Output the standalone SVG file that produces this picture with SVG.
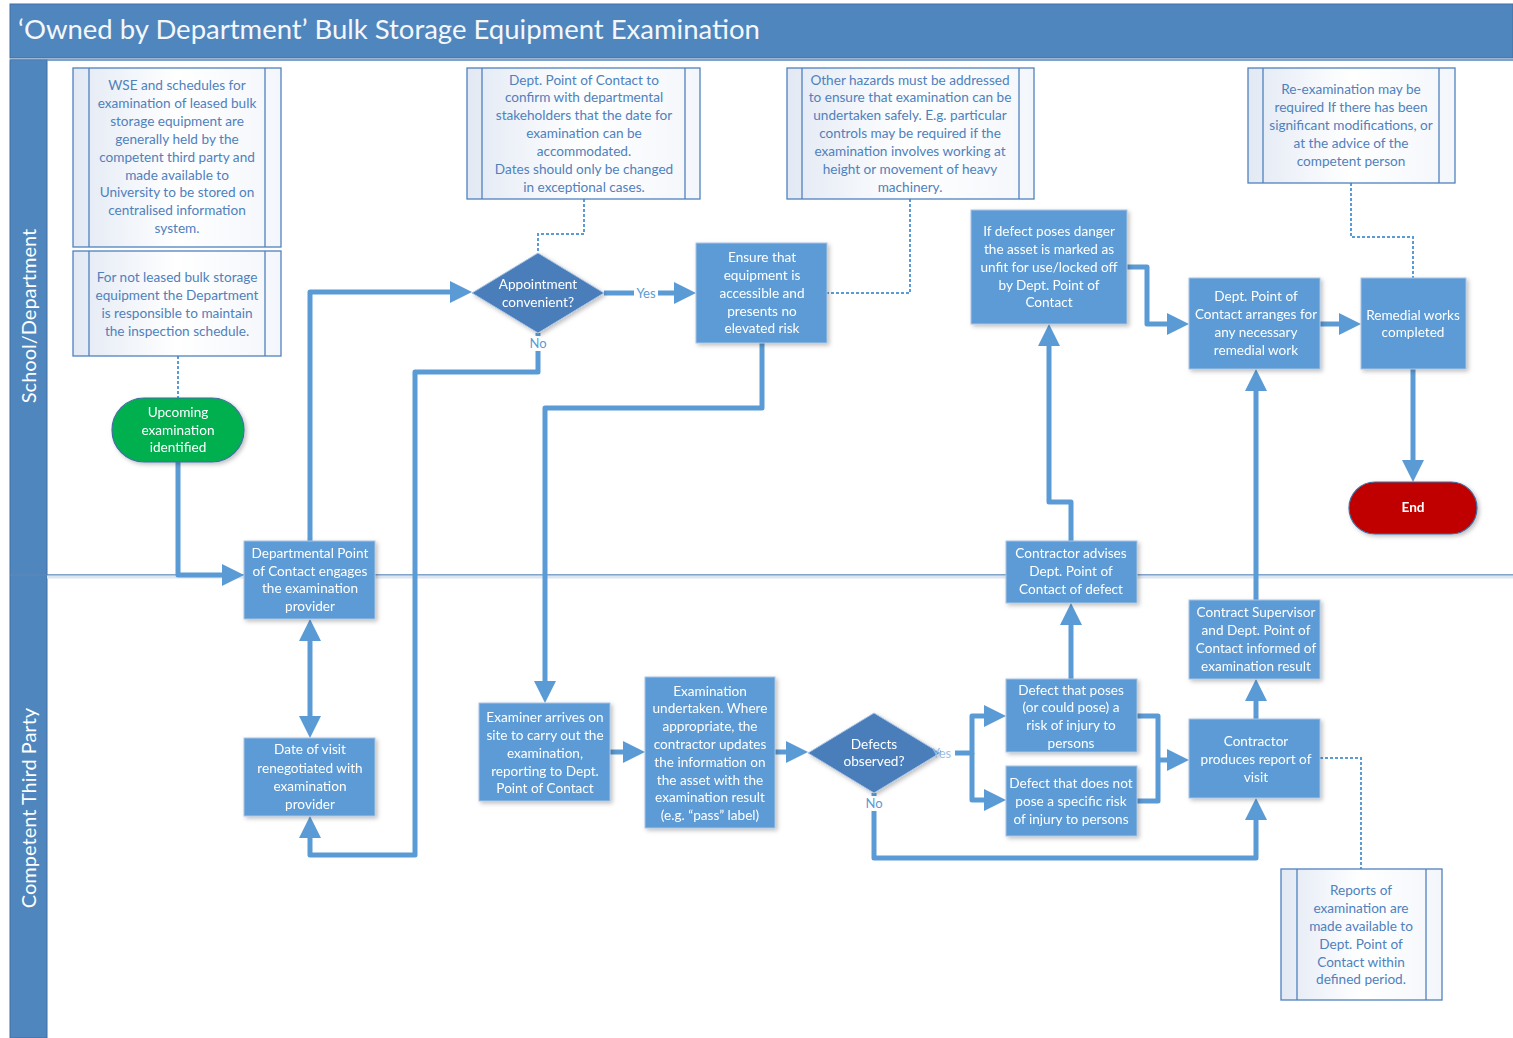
<svg xmlns="http://www.w3.org/2000/svg" width="1513" height="1038" viewBox="0 0 1513 1038">
<defs>
<style>
.t{font-family:Lato,"Liberation Sans",sans-serif;font-size:13.6px;text-anchor:middle}
.w{fill:#FFFFFF}
.nt{fill:#4F81BD}
.box{fill:#5B9BD5;stroke:#A9C4E4;stroke-width:1}
.dia{fill:#4A7EBB;stroke:#A9C4E4;stroke-width:1}
.note{fill:url(#ng);stroke:#4F81BD;stroke-width:1.3}
.bar{stroke:#4F81BD;stroke-width:1.3}
.c{fill:none;stroke:#5B9BD5;stroke-width:5;stroke-linejoin:round}
.a{marker-end:url(#ah)}
.d{fill:none;stroke:#5B9BD5;stroke-width:2;stroke-dasharray:3 2}
.lbl{font-family:Lato,"Liberation Sans",sans-serif;font-size:13px;text-anchor:middle;fill:#5B9BD5}
</style>
<linearGradient id="ng" x1="0" y1="0" x2="1" y2="0">
<stop offset="0" stop-color="#E2E9F4"/>
<stop offset="0.5" stop-color="#FFFFFF"/>
<stop offset="1" stop-color="#F3F6FB"/>
</linearGradient>
<filter id="sh" x="-10%" y="-10%" width="130%" height="130%">
<feDropShadow dx="2" dy="2" stdDeviation="2" flood-color="#000" flood-opacity="0.25"/>
</filter>
<marker id="ah" markerUnits="userSpaceOnUse" markerWidth="24" markerHeight="24" refX="12" refY="11" orient="auto">
<path d="M0,0 L22,11 L0,22 z" fill="#5B9BD5"/>
</marker>
<marker id="as" markerUnits="userSpaceOnUse" markerWidth="24" markerHeight="24" refX="12" refY="11" orient="auto-start-reverse">
<path d="M0,0 L22,11 L0,22 z" fill="#5B9BD5"/>
</marker>
</defs>
<rect width="1513" height="1038" fill="#FFFFFF"/>
<g id="frame">
<rect x="10" y="4" width="1503" height="54" fill="#4F86BD" stroke="#3F6FA3" stroke-width="1"/>
<text x="18" y="39" font-family="Lato,'Liberation Sans',sans-serif" font-size="27.5" fill="#F4F7FB">‘Owned by Department’ Bulk Storage Equipment Examination</text>
<rect x="10" y="60" width="37" height="978" fill="#4F86BD" stroke="#3F6FA3" stroke-width="1"/>
<line x1="10" y1="60" x2="1513" y2="60" stroke="#4F86BD" stroke-width="1.5"/>
<line x1="10" y1="575" x2="1513" y2="575" stroke="#5A86B8" stroke-width="1.5"/>
<line x1="47" y1="577" x2="1513" y2="577" stroke="#DCE6F2" stroke-width="3"/>
<text transform="translate(36,316) rotate(-90)" font-family="Lato,'Liberation Sans',sans-serif" font-size="20" fill="#FFFFFF" text-anchor="middle">School/Department</text>
<text transform="translate(36,808) rotate(-90)" font-family="Lato,'Liberation Sans',sans-serif" font-size="20" fill="#FFFFFF" text-anchor="middle">Competent Third Party</text>
</g>
<g id="connectors">
<path class="c a" d="M178,462 V575 H234"/>
<path class="c a" d="M310,541 V292 H462"/>
<path class="c" d="M310,629 V728" marker-start="url(#as)" marker-end="url(#as)"/>
<path class="c a" d="M538,333 V372 H415 V855 H310 V826"/>
<path class="c a" d="M604,293 H686"/>
<path class="c a" d="M762,343 V408 H545 V693"/>
<path class="c a" d="M610,752 H635"/>
<path class="c a" d="M775,752 H798"/>
<path class="c a" d="M940,753 H972 V716 H996"/>
<path class="c a" d="M972,753 V800 H996"/>
<path class="c a" d="M874,793 V858 H1256 V808"/>
<path class="c" d="M1137,716 H1158 V801 H1137"/>
<path class="c a" d="M1158,760 H1179"/>
<path class="c a" d="M1071,679 V613"/>
<path class="c a" d="M1071,541 V502 H1049 V334"/>
<path class="c a" d="M1127,267 H1147 V324 H1179"/>
<path class="c a" d="M1320,324 H1351"/>
<path class="c a" d="M1413,369 V472"/>
<path class="c a" d="M1256,600 V379"/>
<path class="c a" d="M1256,719 V689"/>
<path class="d" d="M178,356 V398"/>
<path class="d" d="M584,199 V234 H538 V253"/>
<path class="d" d="M910,199 V293 H827"/>
<path class="d" d="M1351,183 V237 H1413 V278"/>
<path class="d" d="M1320,758 H1361 V869"/>
<rect x="634" y="285" width="24" height="16" fill="#FFFFFF"/>
<text class="lbl" x="646" y="298">Yes</text>
<rect x="527" y="336" width="22" height="15" fill="#FFFFFF"/>
<text class="lbl" x="538" y="348">No</text>
<rect x="863" y="796" width="22" height="15" fill="#FFFFFF"/>
<text class="lbl" x="874" y="808">No</text>
</g>
<g id="n1">
<rect class="note" x="73" y="68" width="208" height="179"/>
<line class="bar" x1="89" y1="68" x2="89" y2="247"/><line class="bar" x1="265" y1="68" x2="265" y2="247"/>
<text class="t nt"><tspan x="177" y="90">WSE and schedules for</tspan><tspan x="177" y="108">examination of leased bulk</tspan><tspan x="177" y="126">storage equipment are</tspan><tspan x="177" y="144">generally held by the</tspan><tspan x="177" y="162">competent third party and</tspan><tspan x="177" y="180">made available to</tspan><tspan x="177" y="197">University to be stored on</tspan><tspan x="177" y="215">centralised information</tspan><tspan x="177" y="233">system.</tspan></text>
</g>
<g id="n2">
<rect class="note" x="73" y="251" width="208" height="105"/>
<line class="bar" x1="89" y1="251" x2="89" y2="356"/><line class="bar" x1="265" y1="251" x2="265" y2="356"/>
<text class="t nt"><tspan x="177" y="282">For not leased bulk storage</tspan><tspan x="177" y="300">equipment the Department</tspan><tspan x="177" y="318">is responsible to maintain</tspan><tspan x="177" y="336">the inspection schedule.</tspan></text>
</g>
<g id="n3">
<rect class="note" x="467" y="68" width="233" height="131"/>
<line class="bar" x1="482" y1="68" x2="482" y2="199"/><line class="bar" x1="685" y1="68" x2="685" y2="199"/>
<text class="t nt"><tspan x="584" y="85">Dept. Point of Contact to</tspan><tspan x="584" y="102">confirm with departmental</tspan><tspan x="584" y="120">stakeholders that the date for</tspan><tspan x="584" y="138">examination can be</tspan><tspan x="584" y="156">accommodated.</tspan><tspan x="584" y="174">Dates should only be changed</tspan><tspan x="584" y="192">in exceptional cases.</tspan></text>
</g>
<g id="n4">
<rect class="note" x="787" y="68" width="247" height="131"/>
<line class="bar" x1="802" y1="68" x2="802" y2="199"/><line class="bar" x1="1019" y1="68" x2="1019" y2="199"/>
<text class="t nt"><tspan x="910" y="85">Other hazards must be addressed</tspan><tspan x="910" y="102">to ensure that examination can be</tspan><tspan x="910" y="120">undertaken safely. E.g. particular</tspan><tspan x="910" y="138">controls may be required if the</tspan><tspan x="910" y="156">examination involves working at</tspan><tspan x="910" y="174">height or movement of heavy</tspan><tspan x="910" y="192">machinery.</tspan></text>
</g>
<g id="n5">
<rect class="note" x="1248" y="68" width="207" height="115"/>
<line class="bar" x1="1263" y1="68" x2="1263" y2="183"/><line class="bar" x1="1439" y1="68" x2="1439" y2="183"/>
<text class="t nt"><tspan x="1351" y="94">Re-examination may be</tspan><tspan x="1351" y="112">required If there has been</tspan><tspan x="1351" y="130">significant modifications, or</tspan><tspan x="1351" y="148">at the advice of the</tspan><tspan x="1351" y="166">competent person</tspan></text>
</g>
<g id="n6">
<rect class="note" x="1281" y="869" width="161" height="131"/>
<line class="bar" x1="1297" y1="869" x2="1297" y2="1000"/><line class="bar" x1="1426" y1="869" x2="1426" y2="1000"/>
<text class="t nt"><tspan x="1361" y="895">Reports of</tspan><tspan x="1361" y="913">examination are</tspan><tspan x="1361" y="931">made available to</tspan><tspan x="1361" y="949">Dept. Point of</tspan><tspan x="1361" y="967">Contact within</tspan><tspan x="1361" y="984">defined period.</tspan></text>
</g>
<g id="start" filter="url(#sh)">
<rect x="112" y="398" width="132" height="64" rx="32" fill="#00B050" stroke="#3F6FA3" stroke-width="1.2"/>
<text class="t w"><tspan x="178" y="417">Upcoming</tspan><tspan x="178" y="435">examination</tspan><tspan x="178" y="452">identified</tspan></text>
</g>
<g id="engage" filter="url(#sh)">
<rect class="box" x="244" y="541" width="131" height="78"/>
<text class="t w"><tspan x="310" y="558">Departmental Point</tspan><tspan x="310" y="576">of Contact engages</tspan><tspan x="310" y="593">the examination</tspan><tspan x="310" y="611">provider</tspan></text>
</g>
<g id="renegotiate" filter="url(#sh)">
<rect class="box" x="244" y="738" width="131" height="78"/>
<text class="t w"><tspan x="310" y="754">Date of visit</tspan><tspan x="310" y="773">renegotiated with</tspan><tspan x="310" y="791">examination</tspan><tspan x="310" y="809">provider</tspan></text>
</g>
<g id="appointment" filter="url(#sh)">
<polygon class="dia" points="472,293 538,253 604,293 538,333"/>
<text class="t w"><tspan x="538" y="289">Appointment</tspan><tspan x="538" y="307">convenient?</tspan></text>
</g>
<g id="ensure" filter="url(#sh)">
<rect class="box" x="696" y="243" width="131" height="100"/>
<text class="t w"><tspan x="762" y="262">Ensure that</tspan><tspan x="762" y="280">equipment is</tspan><tspan x="762" y="298">accessible and</tspan><tspan x="762" y="316">presents no</tspan><tspan x="762" y="333">elevated risk</tspan></text>
</g>
<g id="examiner" filter="url(#sh)">
<rect class="box" x="479" y="703" width="131" height="98"/>
<text class="t w"><tspan x="545" y="722">Examiner arrives on</tspan><tspan x="545" y="740">site to carry out the</tspan><tspan x="545" y="758">examination,</tspan><tspan x="545" y="776">reporting to Dept.</tspan><tspan x="545" y="793">Point of Contact</tspan></text>
</g>
<g id="examination" filter="url(#sh)">
<rect class="box" x="645" y="677" width="130" height="151"/>
<text class="t w"><tspan x="710" y="696">Examination</tspan><tspan x="710" y="713">undertaken. Where</tspan><tspan x="710" y="731">appropriate, the</tspan><tspan x="710" y="749">contractor updates</tspan><tspan x="710" y="767">the information on</tspan><tspan x="710" y="785">the asset with the</tspan><tspan x="710" y="802">examination result</tspan><tspan x="710" y="820">(e.g. “pass” label)</tspan></text>
</g>
<g id="defects" filter="url(#sh)">
<polygon class="dia" points="808,753 874,713 940,753 874,793"/>
<text class="t w"><tspan x="874" y="749">Defects</tspan><tspan x="874" y="766">observed?</tspan></text>
</g>
<g id="risk" filter="url(#sh)">
<rect class="box" x="1006" y="679" width="131" height="73"/>
<text class="t w"><tspan x="1071" y="695">Defect that poses</tspan><tspan x="1071" y="712">(or could pose) a</tspan><tspan x="1071" y="730">risk of injury to</tspan><tspan x="1071" y="748">persons</tspan></text>
</g>
<g id="norisk" filter="url(#sh)">
<rect class="box" x="1006" y="766" width="131" height="70"/>
<text class="t w"><tspan x="1071" y="788">Defect that does not</tspan><tspan x="1071" y="806">pose a specific risk</tspan><tspan x="1071" y="824">of injury to persons</tspan></text>
</g>
<g id="advise" filter="url(#sh)">
<rect class="box" x="1006" y="541" width="131" height="62"/>
<text class="t w"><tspan x="1071" y="558">Contractor advises</tspan><tspan x="1071" y="576">Dept. Point of</tspan><tspan x="1071" y="594">Contact of defect</tspan></text>
</g>
<g id="danger" filter="url(#sh)">
<rect class="box" x="971" y="210" width="156" height="114"/>
<text class="t w"><tspan x="1049" y="236">If defect poses danger</tspan><tspan x="1049" y="254">the asset is marked as</tspan><tspan x="1049" y="272">unfit for use/locked off</tspan><tspan x="1049" y="290">by Dept. Point of</tspan><tspan x="1049" y="307">Contact</tspan></text>
</g>
<g id="arrange" filter="url(#sh)">
<rect class="box" x="1189" y="278" width="131" height="91"/>
<text class="t w"><tspan x="1256" y="301">Dept. Point of</tspan><tspan x="1256" y="319">Contact arranges for</tspan><tspan x="1256" y="337">any necessary</tspan><tspan x="1256" y="355">remedial work</tspan></text>
</g>
<g id="remedial" filter="url(#sh)">
<rect class="box" x="1361" y="278" width="105" height="91"/>
<text class="t w"><tspan x="1413" y="320">Remedial works</tspan><tspan x="1413" y="337">completed</tspan></text>
</g>
<g id="end" filter="url(#sh)">
<rect x="1349" y="482" width="128" height="52" rx="26" fill="#C00000" stroke="#3F6FA3" stroke-width="1.2"/>
<text class="t w" x="1413" y="512" font-weight="bold">End</text>
</g>
<g id="informed" filter="url(#sh)">
<rect class="box" x="1189" y="600" width="131" height="79"/>
<text class="t w"><tspan x="1256" y="617">Contract Supervisor</tspan><tspan x="1256" y="635">and Dept. Point of</tspan><tspan x="1256" y="653">Contact informed of</tspan><tspan x="1256" y="671">examination result</tspan></text>
</g>
<g id="report" filter="url(#sh)">
<rect class="box" x="1189" y="719" width="131" height="79"/>
<text class="t w"><tspan x="1256" y="746">Contractor</tspan><tspan x="1256" y="764">produces report of</tspan><tspan x="1256" y="782">visit</tspan></text>
</g>
<g id="edge-labels">
<rect x="941" y="745" width="14" height="16" fill="#FFFFFF"/>
<text x="932" y="758" font-family="Lato,'Liberation Sans',sans-serif" font-size="13" fill="#9CC0E6">Yes</text>
</g>
</svg>
